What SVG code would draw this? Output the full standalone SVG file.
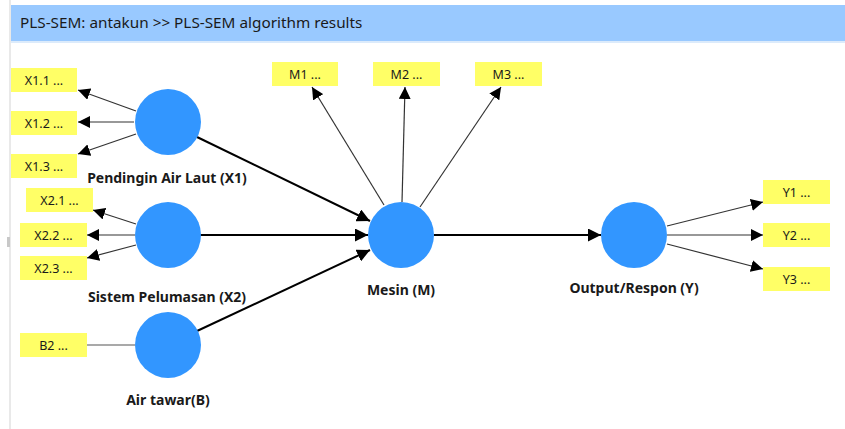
<svg xmlns="http://www.w3.org/2000/svg" width="845" height="429" viewBox="0 0 845 429">
<defs>
<style>
.bg{fill:#ffffff}
.title{font-family:"Noto Sans","Open Sans",sans-serif;font-size:15.3px;fill:#1a1a1a}
.lv{fill:#3296ff}
.lvl{font-family:"Noto Sans","Open Sans",sans-serif;font-size:14px;font-weight:bold;fill:#1a1a1a;text-anchor:middle}
.ind{fill:#ffff66}
.indt{font-family:"Noto Sans","Open Sans",sans-serif;font-size:12.5px;fill:#1a1a1a;text-anchor:middle}
.inner{stroke:#000;stroke-width:2;fill:none}
.outer{stroke:#333;stroke-width:1.2;fill:none}
.plain{stroke:#555;stroke-width:1.2;fill:none}
</style>
<marker id="ah" viewBox="0 0 10 10" refX="10" refY="5" markerWidth="12" markerHeight="12" markerUnits="userSpaceOnUse" orient="auto">
<path d="M0,0 L10,5 L0,10 Z" fill="#000"/>
</marker>
<marker id="ahb" viewBox="0 0 10 10" refX="10" refY="5" markerWidth="13" markerHeight="13" markerUnits="userSpaceOnUse" orient="auto">
<path d="M0,0 L10,5 L0,10 Z" fill="#000"/>
</marker>
</defs>
<rect class="bg" x="0" y="0" width="845" height="429"/>
<line x1="10" y1="0" x2="10" y2="429" stroke="#e2e2e2" stroke-width="1.5"/>
<rect x="7" y="237" width="3" height="10" fill="#c8c8c8"/>
<rect x="11" y="5" width="834" height="37" fill="#99c9ff"/>
<rect x="11" y="41" width="834" height="2" fill="#dcebfb"/>
<text class="title" x="20" y="28">PLS-SEM: antakun &gt;&gt; PLS-SEM algorithm results</text>

<g id="connectors">
<line class="outer" x1="136" y1="111" x2="78" y2="90" marker-end="url(#ah)"/>
<line class="outer" x1="134" y1="122" x2="78" y2="122" marker-end="url(#ah)"/>
<line class="outer" x1="136" y1="134" x2="78" y2="154" marker-end="url(#ah)"/>
<line class="outer" x1="136" y1="224" x2="93" y2="210" marker-end="url(#ah)"/>
<line class="outer" x1="135" y1="235" x2="87" y2="235" marker-end="url(#ah)"/>
<line class="outer" x1="136" y1="245" x2="87" y2="258" marker-end="url(#ah)"/>
<line class="plain" x1="87" y1="345" x2="135" y2="345"/>
<line class="inner" x1="197" y1="137" x2="370" y2="221" marker-end="url(#ahb)"/>
<line class="inner" x1="200" y1="235" x2="368" y2="235" marker-end="url(#ahb)"/>
<line class="inner" x1="197" y1="331" x2="370" y2="250" marker-end="url(#ahb)"/>
<line class="outer" x1="384" y1="205" x2="312" y2="87" marker-end="url(#ah)"/>
<line class="outer" x1="402" y1="202" x2="405" y2="87" marker-end="url(#ah)"/>
<line class="outer" x1="420" y1="207" x2="501" y2="87" marker-end="url(#ah)"/>
<line class="inner" x1="434" y1="235" x2="601" y2="235" marker-end="url(#ahb)"/>
<line class="outer" x1="667" y1="226" x2="763" y2="202" marker-end="url(#ah)"/>
<line class="outer" x1="667" y1="235" x2="763" y2="235" marker-end="url(#ah)"/>
<line class="outer" x1="667" y1="244" x2="763" y2="269" marker-end="url(#ah)"/>
</g>

<g id="X1">
<circle class="lv" cx="168" cy="122" r="33"/>
<text class="lvl" x="167" y="183">Pendingin Air Laut (X1)</text>
</g>
<g id="X2">
<circle class="lv" cx="168" cy="235" r="33"/>
<text class="lvl" x="167" y="302">Sistem Pelumasan (X2)</text>
</g>
<g id="B">
<circle class="lv" cx="168" cy="345" r="33"/>
<text class="lvl" x="168" y="405">Air tawar(B)</text>
</g>
<g id="M">
<circle class="lv" cx="401" cy="235" r="33"/>
<text class="lvl" x="401" y="295">Mesin (M)</text>
</g>
<g id="Y">
<circle class="lv" cx="634" cy="235" r="33"/>
<text class="lvl" x="634" y="293">Output/Respon (Y)</text>
</g>

<g id="X1.1"><rect class="ind" x="11" y="68" width="66" height="24"/><text class="indt" x="44" y="84.5">X1.1 ...</text></g>
<g id="X1.2"><rect class="ind" x="11" y="111" width="66" height="24"/><text class="indt" x="44" y="127.5">X1.2 ...</text></g>
<g id="X1.3"><rect class="ind" x="11" y="154" width="66" height="24"/><text class="indt" x="44" y="170.5">X1.3 ...</text></g>
<g id="X2.1"><rect class="ind" x="26" y="188" width="67" height="24"/><text class="indt" x="59.5" y="204.5">X2.1 ...</text></g>
<g id="X2.2"><rect class="ind" x="20" y="223" width="67" height="24"/><text class="indt" x="53.5" y="239.5">X2.2 ...</text></g>
<g id="X2.3"><rect class="ind" x="20" y="256" width="67" height="24"/><text class="indt" x="53.5" y="272.5">X2.3 ...</text></g>
<g id="B2"><rect class="ind" x="20" y="333" width="67" height="24"/><text class="indt" x="53.5" y="349.5">B2 ...</text></g>
<g id="M1"><rect class="ind" x="272" y="62" width="66" height="24"/><text class="indt" x="305" y="78.5">M1 ...</text></g>
<g id="M2"><rect class="ind" x="373" y="62" width="67" height="24"/><text class="indt" x="406.5" y="78.5">M2 ...</text></g>
<g id="M3"><rect class="ind" x="475" y="62" width="67" height="24"/><text class="indt" x="508.5" y="78.5">M3 ...</text></g>
<g id="Y1"><rect class="ind" x="763" y="180" width="67" height="24"/><text class="indt" x="796.5" y="196.5">Y1 ...</text></g>
<g id="Y2"><rect class="ind" x="763" y="223" width="67" height="24"/><text class="indt" x="796.5" y="239.5">Y2 ...</text></g>
<g id="Y3"><rect class="ind" x="763" y="267" width="67" height="24"/><text class="indt" x="796.5" y="283.5">Y3 ...</text></g>
</svg>
